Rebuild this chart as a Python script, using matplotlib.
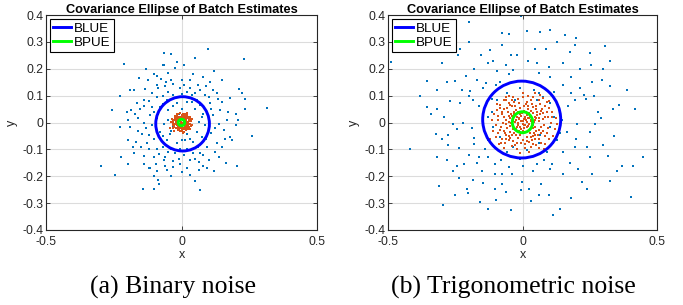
import matplotlib
matplotlib.use("Agg")
import matplotlib.pyplot as plt
from matplotlib.patches import Ellipse
from matplotlib.lines import Line2D

# ---------------- data ----------------
titles = ["Covariance Ellipse of Batch Estimates", "Covariance Ellipse of Batch Estimates"]
captions = ["(a) Binary noise", "(b) Trigonometric noise"]
legend_labels = ["BLUE", "BPUE"]
xticks = [-0.5, 0, 0.5]
xticklabels = ["-0.5", "0", "0.5"]
yticks = [-0.4, -0.3, -0.2, -0.1, 0, 0.1, 0.2, 0.3, 0.4]
yticklabels = ["-0.4", "-0.3", "-0.2", "-0.1", "0", "0.1", "0.2", "0.3", "0.4"]

blue_a = [
    (0.097, 0.275), (-0.066, 0.257), (-0.039, 0.254), (0.230, 0.238), (-0.212, 0.217),
    (-0.066, 0.213), (0.011, 0.213), (-0.023, 0.201), (-0.100, 0.180), (-0.091, 0.172),
    (0.044, 0.180), (-0.075, 0.161), (-0.158, 0.167), (-0.122, 0.158), (-0.058, 0.151),
    (-0.039, 0.158), (0.000, 0.158), (0.106, 0.151), (0.149, 0.158), (-0.177, 0.120),
    (-0.133, 0.123), (-0.085, 0.127), (-0.048, 0.114), (-0.005, 0.127), (0.069, 0.120),
    (0.118, 0.120), (0.211, 0.123), (0.224, 0.108), (-0.227, 0.099), (-0.165, 0.071),
    (-0.137, 0.083), (-0.030, 0.102), (0.038, 0.102), (0.057, 0.083), (0.133, 0.086),
    (0.235, 0.087), (-0.257, 0.048), (-0.186, 0.046), (-0.153, 0.052), (0.235, 0.052),
    (0.315, 0.055), (-0.116, 0.027), (-0.159, 0.015), (-0.198, 0.009), (0.118, 0.027),
    (0.207, 0.009), (-0.227, -0.016), (-0.190, -0.016), (-0.132, -0.022), (-0.119, -0.047),
    (0.124, -0.022), (0.155, -0.029), (0.200, -0.010), (0.260, -0.051), (-0.197, -0.066),
    (-0.169, -0.074), (-0.128, -0.078), (0.188, -0.066), (0.131, -0.078), (-0.177, -0.113),
    (-0.224, -0.128), (-0.140, -0.123), (-0.083, -0.118), (-0.048, -0.109), (0.042, -0.115),
    (0.069, -0.115), (0.124, -0.110), (-0.196, -0.155), (-0.140, -0.153), (-0.094, -0.153),
    (-0.005, -0.153), (0.063, -0.146), (0.165, -0.150), (0.204, -0.163), (-0.298, -0.163),
    (-0.116, -0.171), (-0.054, -0.177), (-0.030, -0.165), (0.066, -0.177), (0.094, -0.171),
    (-0.246, -0.195), (-0.087, -0.214), (-0.084, -0.227), (0.048, -0.218), (-0.143, -0.248),
    (-0.100, -0.248), (0.070, -0.253),
    (-0.054, 0.083), (-0.017, 0.071), (0.020, 0.077), (-0.079, 0.058), (-0.048, 0.046),
    (0.050, 0.052), (0.081, 0.033), (-0.091, 0.015), (-0.066, -0.004), (0.063, 0.002),
    (0.087, -0.010), (-0.079, -0.035), (-0.042, -0.041), (0.020, -0.041), (0.057, -0.035),
    (-0.054, -0.066), (-0.017, -0.078), (0.014, -0.066), (0.044, -0.072), (0.075, -0.053),
    (-0.030, -0.016), (0.032, 0.021), (-0.023, 0.021), (0.001, -0.066), (-0.091, -0.097),
    (0.020, -0.097), (-0.023, -0.115), (0.094, -0.091), (-0.110, 0.058), (0.106, 0.071),
    (0.020, 0.114), (0.087, 0.102), (-0.091, 0.096), (0.143, 0.046), (0.167, 0.009),
    (-0.147, -0.041), (0.180, -0.053), (0.137, -0.128), (0.032, -0.140), (-0.066, -0.140),
    (-0.011, -0.134),
    (-0.067, 0.214), (-0.092, 0.140), (-0.060, 0.135), (-0.030, 0.145), (0.010, 0.140),
    (0.030, 0.130), (0.060, 0.140), (0.090, 0.135), (-0.110, 0.110), (-0.070, 0.100),
    (0.000, 0.105), (0.050, 0.110), (0.100, 0.095), (0.130, 0.110), (-0.140, 0.060),
    (-0.120, 0.080), (-0.100, 0.040), (-0.070, 0.070), (-0.030, 0.060), (0.000, 0.050),
    (0.040, 0.075), (0.070, 0.065), (0.110, 0.050), (0.150, 0.075), (0.170, 0.040),
    (-0.170, 0.030), (-0.140, 0.000), (-0.110, -0.010), (-0.085, 0.030), (-0.050, 0.010),
    (-0.010, 0.030), (0.040, -0.010), (0.075, 0.020), (0.100, 0.010), (0.140, -0.005),
    (0.160, -0.060), (-0.160, -0.030), (-0.100, -0.060), (-0.070, -0.050), (-0.040, -0.030),
    (0.030, -0.060), (0.060, -0.090), (0.090, -0.060), (0.110, -0.040), (0.150, -0.090),
    (-0.150, -0.090), (-0.120, -0.100), (-0.100, -0.130), (-0.070, -0.090), (-0.040, -0.100),
    (-0.005, -0.100), (0.040, -0.100), (0.080, -0.120), (0.100, -0.140), (-0.060, -0.130),
    (-0.030, -0.145), (0.010, -0.120), (0.050, -0.135), (-0.120, -0.170), (-0.090, -0.180),
    (-0.060, -0.160), (0.020, -0.170), (0.030, -0.195), (0.080, -0.160), (-0.100, -0.200),
    (-0.040, -0.200), (0.000, -0.185), (0.120, -0.180), (-0.180, -0.090), (-0.200, 0.040),
    (0.200, 0.030), (0.180, 0.090), (-0.190, 0.120), (0.030, 0.160), (-0.050, 0.185),
    (0.080, 0.170), (-0.130, 0.200), (0.120, 0.190), (-0.015, 0.225), (0.050, 0.240),
]

orange_a = [
    (0.000, 0.000), (0.008, 0.004), (-0.006, 0.007), (0.012, -0.006), (-0.010, -0.004),
    (0.004, 0.014), (-0.002, -0.013), (0.018, 0.008), (-0.016, 0.010), (0.020, -0.012),
    (-0.014, -0.015), (0.006, 0.022), (-0.008, 0.020), (0.024, 0.002), (-0.022, -0.002),
    (0.010, -0.020), (-0.004, -0.022), (0.028, 0.012), (-0.026, 0.008), (0.015, 0.018),
    (-0.018, 0.018), (0.022, -0.020), (-0.020, -0.020), (0.002, 0.028), (0.000, -0.030),
    (0.030, -0.004), (-0.030, 0.000), (0.026, 0.022), (-0.024, 0.024), (0.032, 0.016),
    (-0.028, -0.016), (0.012, 0.030), (-0.012, 0.030), (0.016, -0.028), (-0.014, -0.028),
    (0.034, -0.014), (0.005, 0.008), (-0.005, -0.006), (0.010, 0.010), (-0.012, 0.002),
    (0.014, -0.002), (0.002, -0.016), (-0.008, 0.014), (0.019, 0.001), (-0.018, -0.008),
    (0.007, -0.010), (0.024, -0.010), (-0.022, 0.014), (0.009, 0.024), (-0.002, 0.019),
    (0.017, -0.016), (-0.010, -0.024), (0.029, 0.005), (-0.033, -0.008), (0.003, -0.026),
    (0.020, 0.026), (-0.020, 0.004), (0.013, 0.006), (-0.015, -0.020), (0.036, 0.004),
    (-0.042, -0.022), (0.025, -0.026), (-0.006, 0.034), (0.011, -0.034), (0.038, -0.008),
    (-0.036, 0.014), (0.022, 0.032), (-0.026, -0.030),
    (0.004, -0.004), (-0.003, 0.003), (0.016, 0.004), (-0.016, -0.002), (0.006, 0.016),
    (-0.006, -0.018), (0.021, 0.015), (-0.020, 0.012), (0.014, -0.012), (-0.011, -0.010),
    (0.027, -0.018), (-0.026, -0.010), (0.002, 0.022), (0.008, -0.026), (-0.031, 0.006),
    (0.033, 0.008), (0.015, 0.025), (-0.016, 0.026), (0.018, -0.022), (-0.006, -0.030),
    (0.030, 0.020), (-0.024, 0.018), (0.010, 0.000), (-0.010, 0.008), (0.000, 0.012),
    (0.000, -0.010), (0.026, -0.004), (-0.024, -0.006), (0.012, 0.016), (-0.014, 0.018),
    (0.020, -0.006), (-0.008, -0.022), (0.031, -0.024), (-0.030, -0.022), (0.005, 0.032),
    (-0.018, 0.032), (0.040, 0.014), (-0.040, 0.002), (0.006, -0.038), (0.019, 0.036),
]

blue_b = [
    (-0.200, 0.375), (-0.006, 0.397), (0.016, 0.341), (0.103, 0.346), (-0.075, 0.334),
    (-0.052, 0.329), (0.066, 0.335), (0.157, 0.326), (0.200, 0.313), (0.308, 0.285),
    (-0.075, 0.290), (0.196, 0.290), (-0.232, 0.275), (0.047, 0.275), (0.087, 0.275),
    (-0.154, 0.253), (-0.042, 0.251), (-0.020, 0.253), (0.175, 0.263), (-0.487, 0.226),
    (-0.129, 0.223), (-0.110, 0.228), (0.327, 0.230), (-0.060, 0.213), (0.053, 0.220),
    (0.255, 0.213), (0.212, 0.199), (-0.093, 0.191), (-0.036, 0.195), (0.063, 0.185),
    (0.101, 0.170), (-0.211, 0.174), (-0.170, 0.160), (-0.354, 0.155), (-0.251, 0.154),
    (0.296, 0.160), (-0.137, 0.148), (0.215, 0.130), (0.327, 0.135), (-0.316, 0.120),
    (-0.226, 0.120), (-0.145, 0.127), (-0.195, 0.118), (0.389, 0.120), (0.227, 0.102),
    (0.237, 0.086), (0.264, 0.098), (-0.232, 0.073), (-0.183, 0.083), (0.196, 0.083),
    (-0.354, 0.058), (0.357, 0.065), (-0.339, 0.033), (-0.292, 0.021), (-0.319, 0.052),
    (0.335, 0.052), (-0.220, 0.000), (-0.257, -0.006), (0.292, 0.015), (0.271, -0.004),
    (0.203, -0.004), (-0.245, -0.025), (-0.189, -0.022), (-0.322, -0.041), (-0.179, -0.056),
    (0.165, -0.035), (0.250, -0.035), (-0.276, -0.047), (-0.236, -0.094), (-0.276, -0.084),
    (0.240, -0.093), (0.196, -0.093), (0.298, -0.084), (0.317, -0.124), (-0.127, -0.128),
    (-0.160, -0.128), (-0.319, -0.130), (-0.280, -0.140), (0.448, -0.130), (-0.170, -0.149),
    (-0.216, -0.156), (-0.102, -0.156), (-0.245, -0.163), (-0.052, -0.164), (0.053, -0.156),
    (0.109, -0.153), (0.178, -0.149), (0.370, -0.161), (0.410, -0.163), (0.206, -0.174),
    (0.039, -0.180), (0.103, -0.174), (-0.104, -0.190), (-0.077, -0.192), (0.258, -0.190),
    (-0.236, -0.208), (-0.185, -0.215), (-0.145, -0.225), (-0.075, -0.227), (-0.002, -0.221),
    (0.240, -0.249), (0.324, -0.218), (-0.207, -0.246), (-0.102, -0.246), (-0.006, -0.252),
    (0.025, -0.246), (-0.309, -0.237), (-0.201, -0.264), (0.097, -0.268), (-0.157, -0.295),
    (0.031, -0.293), (-0.296, -0.306), (-0.127, -0.323), (-0.043, -0.326), (0.140, -0.323),
    (0.115, -0.344), (0.404, -0.279), (0.060, -0.268),
    (-0.096, 0.083), (-0.058, 0.108), (-0.009, 0.127), (0.041, 0.120), (0.078, 0.096),
    (0.103, 0.071), (-0.114, 0.040), (-0.108, -0.016), (-0.083, -0.053), (0.066, -0.047),
    (0.103, -0.016), (0.116, 0.021), (-0.034, -0.091), (0.016, -0.103), (0.060, -0.078),
    (-0.058, -0.109), (0.091, -0.109), (-0.127, -0.066), (0.128, -0.066), (-0.114, 0.089),
    (0.053, 0.083), (-0.027, 0.083), (-0.145, -0.004), (0.147, 0.009), (-0.009, -0.134),
    (0.029, -0.128), (0.060, 0.108), (0.116, 0.114), (-0.083, 0.151),
    (-0.200, 0.300), (0.130, 0.300), (-0.120, 0.270), (0.250, 0.260), (-0.300, 0.220),
    (0.020, 0.230), (0.150, 0.220), (-0.180, 0.200), (0.100, 0.205), (-0.050, 0.180),
    (0.180, 0.170), (-0.280, 0.150), (0.260, 0.150), (-0.100, 0.140), (0.150, 0.140),
    (-0.200, 0.100), (0.180, 0.110), (-0.160, 0.060), (0.170, 0.060), (-0.270, 0.080),
    (0.280, 0.040), (-0.130, 0.020), (0.140, -0.040), (-0.180, -0.080), (0.200, -0.060),
    (-0.140, -0.100), (0.150, -0.110), (-0.300, -0.060), (0.340, -0.050), (-0.200, -0.120),
    (0.250, -0.130), (-0.080, -0.140), (0.080, -0.140), (-0.260, -0.180), (0.150, -0.190),
    (-0.040, -0.190), (0.000, -0.160), (-0.150, -0.180), (0.220, -0.220), (-0.060, -0.260),
    (0.070, -0.230), (-0.250, -0.270), (0.180, -0.280), (-0.100, -0.290), (0.350, -0.180),
    (-0.380, 0.100), (0.420, 0.050), (-0.420, -0.100), (0.300, 0.200), (-0.240, 0.250),
]

orange_b = [
    (0.000, 0.005), (0.010, -0.008), (-0.012, 0.012), (0.020, 0.015), (-0.018, -0.010),
    (0.005, -0.020), (-0.005, 0.025), (0.025, -0.005), (-0.028, 0.002), (0.015, 0.028),
    (-0.020, 0.022), (0.030, -0.020), (-0.025, -0.025), (0.008, 0.018), (-0.008, -0.015),
    (0.018, 0.002), (-0.015, 0.000), (0.003, -0.032), (-0.002, 0.035), (0.033, 0.010),
    (-0.034, -0.012), (0.022, -0.030), (-0.012, -0.033), (0.012, 0.008), (-0.006, 0.006),
    (0.028, 0.025), (-0.030, 0.020), (0.006, -0.010), (-0.020, -0.030), (0.016, -0.016),
    (0.036, -0.002), (-0.036, 0.006), (0.000, -0.005), (0.024, 0.034), (-0.010, 0.030),
    (0.014, -0.036), (-0.024, 0.010), (0.030, 0.004), (-0.004, -0.025), (0.010, 0.022),
    (0.045, 0.020), (-0.048, 0.015), (0.050, -0.030), (-0.045, -0.035), (0.020, 0.050),
    (-0.025, 0.048), (0.030, -0.055), (-0.015, -0.058), (0.060, 0.005), (-0.062, -0.005),
    (0.055, 0.040), (-0.055, 0.038), (0.058, -0.045), (-0.050, -0.050), (0.040, 0.058),
    (-0.040, 0.060), (0.005, 0.062), (0.002, -0.065), (0.070, -0.015), (-0.068, 0.022),
    (0.065, 0.030), (-0.070, -0.030), (0.048, -0.062), (-0.035, -0.068), (0.012, 0.070),
    (-0.012, 0.072), (0.075, 0.012), (-0.072, 0.000), (0.042, -0.040), (-0.042, 0.030),
    (0.050, 0.050), (-0.058, 0.055), (0.068, -0.040), (-0.062, -0.045), (0.025, -0.072),
    (-0.022, -0.075), (0.078, 0.035), (-0.078, 0.030), (0.035, 0.068), (-0.045, 0.066),
    (0.060, -0.060), (-0.052, -0.065), (0.080, -0.010), (-0.080, -0.015), (0.018, 0.078),
    (-0.030, 0.078), (0.010, -0.080), (-0.005, -0.078), (0.072, 0.052), (-0.068, 0.050),
    (0.044, 0.003), (-0.046, -0.012), (0.052, 0.016), (-0.050, 0.002), (0.038, -0.022),
    (-0.036, -0.026), (0.032, 0.044), (-0.030, 0.040), (0.040, -0.050), (-0.026, -0.048),
    (0.095, 0.020), (-0.092, 0.010), (0.090, -0.040), (-0.090, -0.040), (0.085, 0.060),
    (-0.085, 0.055), (0.060, 0.085), (-0.060, 0.082), (0.040, 0.095), (-0.035, 0.095),
    (0.070, -0.075), (-0.065, -0.078), (0.030, -0.090), (-0.040, -0.088), (0.105, 0.000),
    (-0.100, -0.010), (0.110, 0.040), (-0.095, 0.045), (0.100, -0.060), (-0.098, -0.055),
    (0.075, 0.090), (0.000, 0.095), (0.010, -0.095), (0.120, -0.025), (-0.105, 0.030),
    (0.085, -0.080), (-0.080, -0.075), (0.050, -0.085), (0.125, 0.015), (0.090, 0.075),
    (-0.070, 0.085), (0.020, 0.100), (-0.020, -0.100), (0.060, -0.095), (-0.095, 0.070),
    (0.115, -0.050), (0.100, 0.055), (-0.088, -0.080), (0.065, 0.102), (-0.050, 0.100),
    (0.005, 0.012), (-0.014, 0.018), (0.022, -0.012), (-0.022, -0.018), (0.013, 0.040),
    (-0.018, 0.040), (0.028, -0.040), (-0.008, -0.045), (0.045, 0.008), (-0.044, 0.000),
    (0.040, 0.034), (-0.040, 0.024), (0.047, -0.018), (-0.030, -0.040), (0.020, 0.060),
    (-0.028, 0.062), (0.015, -0.055), (-0.045, -0.058), (0.063, 0.018), (-0.060, 0.010),
    (0.062, -0.028), (-0.058, -0.020), (0.052, 0.062), (-0.050, 0.072), (0.035, -0.065),
    (-0.060, -0.060), (0.075, -0.030), (-0.075, 0.040), (0.082, 0.022), (-0.085, -0.028),
    (0.030, 0.085), (-0.015, 0.088), (0.040, -0.080), (-0.028, -0.085), (0.090, 0.040),
    (-0.090, 0.025), (0.095, -0.020), (-0.075, -0.060), (0.065, 0.070), (-0.040, 0.082),
    (0.007, 0.044), (-0.006, -0.040), (0.026, 0.018), (-0.032, 0.032), (0.038, -0.010),
    (-0.052, 0.024), (0.054, 0.028), (0.046, -0.046), (-0.040, -0.045), (0.016, -0.070),
    (-0.010, 0.055), (0.068, 0.042), (-0.066, -0.038), (0.084, -0.052), (-0.082, 0.066),
    (0.108, 0.022), (-0.110, -0.030), (0.100, 0.080), (-0.060, 0.095), (0.045, 0.110),
    (0.025, -0.110), (-0.070, -0.095), (0.080, -0.100), (0.130, -0.005), (-0.115, 0.010),
    (0.112, -0.075), (0.135, 0.050), (-0.120, -0.060), (0.000, 0.110), (-0.010, -0.115),
]

# ellipse parameters (center x, center y, width, height)
blue_ellipse_a = (0.004, -0.005, 0.198, 0.202)
green_ellipse_a = (0.000, 0.000, 0.024, 0.024)
blue_ellipse_b = (-0.003, 0.011, 0.290, 0.286)
green_ellipse_b = (0.000, 0.001, 0.076, 0.078)

panels = [
    (blue_a, orange_a, blue_ellipse_a, green_ellipse_a),
    (blue_b, orange_b, blue_ellipse_b, green_ellipse_b),
]

# ---------------- style ----------------
C_BLUE_PTS = "#0072BD"
C_ORANGE_PTS = "#D95319"
C_BLUE = "#0000FF"
C_GREEN = "#00FF00"
AX_COL = "#262626"

plt.rcParams["font.family"] = ["Liberation Sans", "DejaVu Sans"]

fig = plt.figure(figsize=(6.83, 3.05), dpi=100)
positions = [
    [46 / 683, 75 / 305, 271 / 683, 215 / 305],
    [388 / 683, 75 / 305, 269 / 683, 215 / 305],
]
caption_x = [173 / 683, 513 / 683]

for i, (blue, orange, be, ge) in enumerate(panels):
    ax = fig.add_axes(positions[i])
    ax.set_xlim(-0.5, 0.5)
    ax.set_ylim(-0.4, 0.4)
    ax.set_xticks(xticks)
    ax.set_yticks(yticks)
    ax.set_xticklabels(xticklabels)
    ax.set_yticklabels(yticklabels)
    ax.grid(True, color="#DCDCDC", linewidth=0.8)
    ax.set_axisbelow(True)
    ax.tick_params(direction="in", length=3, width=0.6, colors=AX_COL, labelsize=8.7,
                   top=True, right=True)
    ax.tick_params(axis="x", pad=4)
    ax.tick_params(axis="y", pad=2)
    for s in ax.spines.values():
        s.set_color(AX_COL)
        s.set_linewidth(0.8)

    bx = [p[0] for p in blue]
    by = [p[1] for p in blue]
    ox = [p[0] for p in orange]
    oy = [p[1] for p in orange]
    ax.scatter(bx, by, s=2.6, marker="s", color=C_BLUE_PTS, linewidths=0, zorder=2)
    ax.scatter(ox, oy, s=2.6, marker="s", color=C_ORANGE_PTS, linewidths=0, zorder=3)

    ax.add_patch(Ellipse((be[0], be[1]), be[2], be[3], fill=False,
                         edgecolor=C_BLUE, linewidth=2.1, zorder=4))
    ax.add_patch(Ellipse((ge[0], ge[1]), ge[2], ge[3], fill=False,
                         edgecolor=C_GREEN, linewidth=2.1, zorder=5))

    handles = [Line2D([], [], color=C_BLUE, linewidth=2.1),
               Line2D([], [], color=C_GREEN, linewidth=2.1)]
    leg = ax.legend(handles, legend_labels, loc="upper left", fontsize=9.6,
                    frameon=True, fancybox=False, handlelength=1.35,
                    handletextpad=0.2, borderpad=0.25, labelspacing=0.15,
                    borderaxespad=0.3)
    leg.get_frame().set_edgecolor("black")
    leg.get_frame().set_linewidth(0.8)
    leg.get_frame().set_alpha(1)

    ax.set_title(titles[i], fontsize=9.2, fontweight="bold", pad=1.5, color="black")
    ax.set_xlabel("x", fontsize=9, color=AX_COL, labelpad=1)
    ax.set_ylabel("y", fontsize=9, color=AX_COL, labelpad=3)

    fig.text(caption_x[i], 1 - 287 / 305, captions[i], ha="center", va="center",
             fontsize=18.5, family=["Liberation Serif", "DejaVu Serif"])

fig.savefig("out.png", dpi=100)
